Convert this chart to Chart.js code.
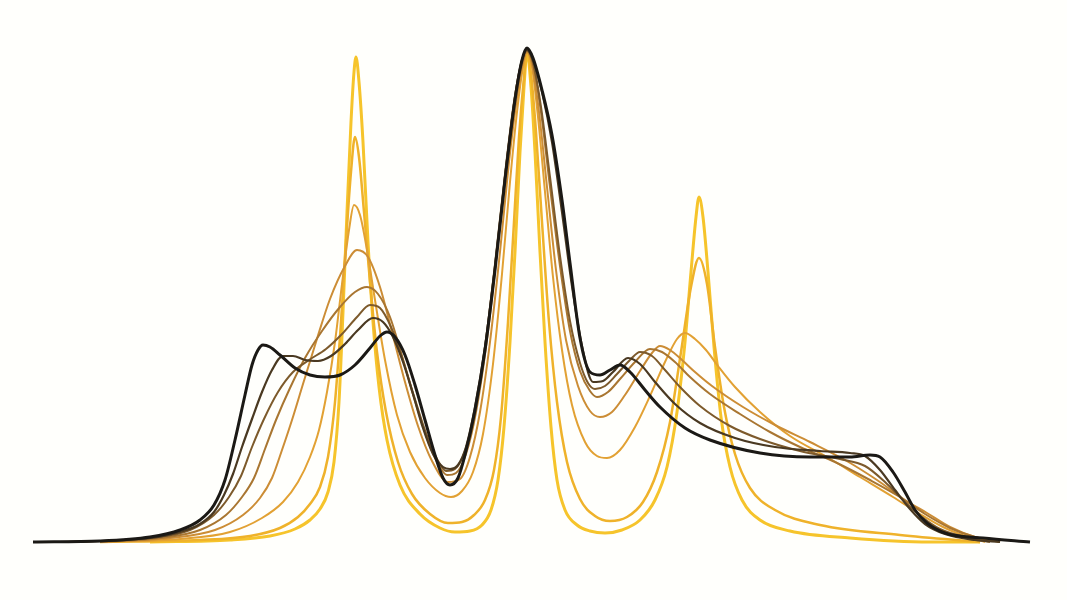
<!DOCTYPE html>
<html>
<head>
<meta charset="utf-8">
<script src="https://cdn.jsdelivr.net/npm/chart.js@4.4.1/dist/chart.umd.min.js"></script>
<style>
    body { margin: 0; background: #fffffc; }
    #spec { display: block; }
</style>
</head>
<body>
<canvas id="spec" width="1067" height="600"></canvas>
<script>
// spectra, sharpest (yellow) to broadest (black) - [channel, intensity]
var s1 = [[150,0],[230,2],[270,6],[295,13],[310,22],[320,33],[328,50],[334,80],[339,140],[343,230],[347,330],[351,420],[354,470],[356,485],[359,460],[363,400],[368,300],[373,220],[379,155],[387,102],[400,57],[420,28],[440,14],[455,10],[470,11],[482,17],[491,32],[498,62],[504,115],[510,200],[515,290],[520,390],[524,455],[527,490],[531,455],[535,390],[540,290],[545,200],[551,115],[557,62],[565,32],[577,17],[590,11],[605,9],[622,12],[640,22],[655,42],[667,75],[677,130],[685,200],[691,270],[696,325],[699,345],[703,325],[708,270],[714,195],[721,125],[730,75],[742,42],[760,22],[790,11],[850,4],[930,0],[980,0]];
var s2 = [[100,0],[200,2],[250,6],[280,14],[298,25],[310,38],[320,55],[328,85],[335,140],[341,220],[346,300],[351,370],[355,405],[359,385],[364,330],[370,260],[377,190],[386,130],[398,80],[412,48],[430,28],[448,19],[462,20],[474,27],[485,42],[494,72],[501,125],[508,220],[514,320],[519,405],[524,465],[527,490],[531,468],[536,410],[542,320],[549,220],[557,140],[567,80],[580,43],[595,26],[610,21],[627,25],[643,40],[657,70],[670,120],[681,190],[691,255],[699,284],[707,258],[715,195],[724,135],[735,88],[750,54],[775,32],[820,17],[900,7],[980,0]];
var s3 = [[100,0],[180,3],[230,10],[262,24],[283,40],[298,60],[310,85],[319,112],[327,150],[335,200],[342,258],[349,312],[354,337],[360,327],[367,292],[375,242],[385,182],[397,127],[410,90],[425,64],[440,49],[451,45],[462,51],[473,70],[483,108],[493,178],[502,268],[510,360],[517,430],[523,475],[527,490],[532,475],[538,425],[545,350],[553,265],[562,192],[572,137],[585,100],[597,86],[607,84],[620,92],[635,115],[650,146],[665,180],[677,203],[685,209],[695,203],[706,192],[718,176],[735,155],[760,130],[790,106],[827,85],[860,65],[893,45],[920,28],[943,15],[965,6],[985,0]];
var s4 = [[100,0],[170,4],[215,12],[243,27],[260,44],[272,64],[282,92],[292,122],[303,158],[316,200],[330,243],[345,276],[357,292],[368,285],[380,255],[392,210],[405,160],[418,116],[432,81],[448,60],[460,63],[470,85],[480,130],[490,200],[500,290],[509,380],[517,445],[523,480],[527,490],[532,478],[539,430],[547,355],[556,272],[566,202],[578,156],[590,131],[600,125],[612,130],[625,147],[640,171],[652,189],[660,196],[670,192],[682,182],[695,170],[712,156],[743,135],[775,117],[810,100],[845,82],[877,62],[905,42],[927,29],[950,15],[975,5],[1000,0]];
var s5 = [[100,0],[160,4],[200,12],[226,27],[242,45],[254,64],[265,93],[276,122],[290,154],[305,184],[322,211],[340,235],[355,250],[367,255],[378,248],[390,225],[402,186],[415,141],[428,101],[438,78],[447,67],[456,69],[466,88],[476,130],[486,195],[496,280],[506,370],[515,440],[522,478],[527,491],[533,478],[541,430],[550,355],[560,276],[570,211],[580,171],[590,151],[597,145],[608,150],[620,163],[635,180],[650,193],[662,190],[675,180],[690,165],[710,148],[740,128],[770,110],[800,95],[835,80],[870,62],[900,45],[925,28],[950,14],[975,5],[1000,0]];
var s6 = [[80,0],[150,4],[190,12],[214,27],[229,45],[241,66],[252,95],[264,123],[278,150],[293,170],[309,182],[326,193],[342,208],[357,225],[370,237],[380,234],[391,215],[402,185],[414,146],[426,109],[437,83],[446,71],[455,73],[465,91],[475,130],[485,195],[495,278],[505,368],[514,440],[521,478],[527,492],[533,480],[541,435],[550,365],[560,286],[570,221],[580,179],[588,159],[595,153],[605,156],[617,168],[630,182],[640,190],[652,186],[665,172],[680,155],[700,136],[730,116],[760,103],[800,91],[840,83],[865,76],[885,60],[905,40],[922,25],[940,13],[965,5],[990,0]];
var s7 = [[60,0],[150,4],[180,10],[200,18],[214,30],[224,47],[233,68],[242,95],[252,123],[262,150],[272,172],[283,186],[293,186],[305,182],[318,181],[331,186],[345,198],[358,212],[373,224],[383,220],[393,205],[403,180],[413,148],[423,114],[433,88],[443,75],[450,73],[458,77],[466,95],[475,135],[485,195],[495,275],[505,365],[515,445],[522,482],[527,492],[533,482],[542,450],[552,400],[562,330],[572,256],[582,196],[593,160],[603,161],[613,170],[628,184],[640,178],[655,160],[675,138],[700,119],[735,104],[775,95],[820,91],[850,89],[865,86],[880,72],[895,52],[910,33],[925,18],[945,8],[975,2],[1000,0]];
var s8 = [[33,0],[100,1],[150,5],[180,12],[200,22],[214,37],[225,62],[235,102],[245,147],[252,177],[258,192],[263,197],[270,195],[280,187],[295,174],[310,167],[325,165],[340,167],[355,177],[370,194],[380,206],[387,210],[395,205],[405,187],[415,157],[425,122],[435,87],[443,64],[450,57],[458,64],[465,87],[475,132],[485,192],[495,272],[505,362],[515,442],[522,482],[527,494],[533,484],[542,452],[552,407],[562,342],[570,279],[580,204],[590,170],[600,167],[610,172],[620,177],[630,170],[645,152],[660,135],[685,114],[710,102],[760,89],[810,85],[850,85],[870,87],[880,85],[893,70],[905,50],[915,32],[927,19],[945,9],[983,4],[1030,0]];

var series = [s1, s2, s3, s4, s5, s6, s7, s8];
var colors = ['#f6c42b', '#efb22a', '#e2a133', '#cc8d35', '#a97631', '#7d5a2b', '#4a3921', '#1b1915'];
var widths = [3, 2.5, 2, 2, 2, 2, 2.2, 3];

function toPoints(arr) {
    return arr.map(function (p) { return { x: p[0], y: p[1] }; });
}

var datasets = [];
// black drawn on top, so it goes first
for (let i = series.length - 1; i >= 0; i--) {
    datasets.push({
        data: toPoints(series[i]),
        borderColor: colors[i],
        borderWidth: widths[i],
        pointRadius: 0,
        fill: false,
        cubicInterpolationMode: 'monotone'
    });
}

new Chart(document.getElementById('spec').getContext('2d'), {
    type: 'line',
    data: { datasets: datasets },
    options: {
        responsive: false,
        animation: false,
        layout: { padding: 0 },
        plugins: { legend: { display: false }, tooltip: { enabled: false } },
        scales: {
            x: { type: 'linear', min: 0, max: 1067, display: false },
            y: { min: -58, max: 542, display: false }
        }
    }
});
</script>
</body>
</html>
